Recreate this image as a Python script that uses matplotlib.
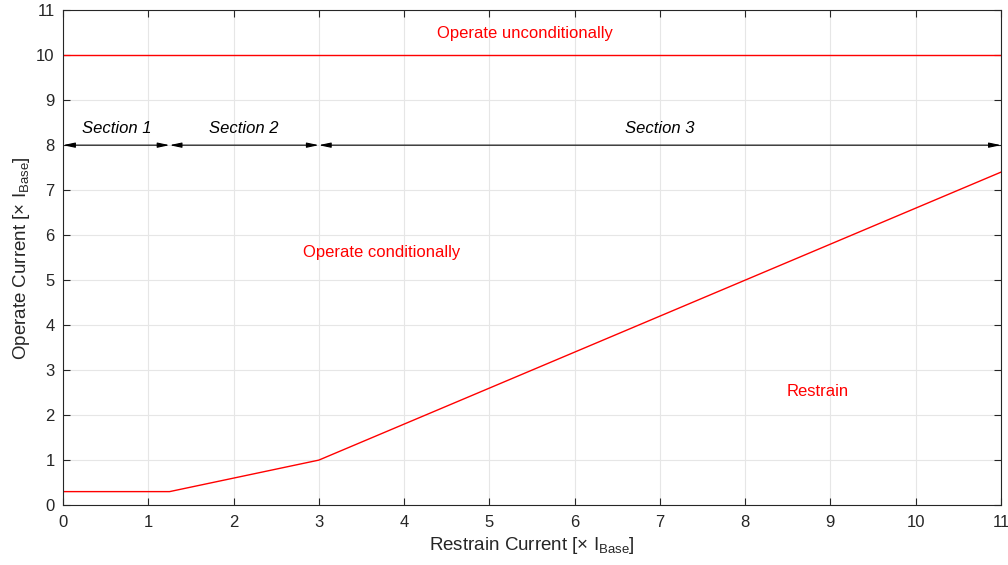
import matplotlib
matplotlib.use("Agg")
import matplotlib.pyplot as plt

plt.rcParams["font.family"] = ["Liberation Sans", "DejaVu Sans"]
plt.rcParams["mathtext.fontset"] = "custom"
plt.rcParams["mathtext.rm"] = "Liberation Sans"
plt.rcParams["mathtext.it"] = "Liberation Sans:italic"

# Restraint characteristic breakpoints
restrain_x = [0, 1.25, 3, 11]
operate_y = [0.3, 0.3, 1.0, 7.4]
unconditional_limit = 10
section_bounds = [0, 1.25, 3, 11]
section_names = ["Section 1", "Section 2", "Section 3"]
arrow_level = 8

fig = plt.figure(figsize=(10.08, 5.65), dpi=100)
ax = fig.add_axes([0.0625, 0.106, 0.9305, 0.876])

ax.plot(restrain_x, operate_y, color="red", lw=1)
ax.plot([0, 11], [unconditional_limit] * 2, color="red", lw=1)

for a, b, name in zip(section_bounds[:-1], section_bounds[1:], section_names):
    ax.annotate("", xy=(b, arrow_level), xytext=(a, arrow_level),
                arrowprops=dict(arrowstyle="<|-|>,head_length=0.7,head_width=0.15",
                                color="black", lw=0.8, shrinkA=0, shrinkB=0))
    ax.text((a + b) / 2, arrow_level + 0.38, name, style="italic",
            ha="center", va="center", fontsize=12)

ax.text(5.42, 10.49, "Operate unconditionally", color="red", ha="center",
        va="center", fontsize=12)
ax.text(3.74, 5.62, "Operate conditionally", color="red", ha="center",
        va="center", fontsize=12)
ax.text(8.85, 2.53, "Restrain", color="red", ha="center", va="center",
        fontsize=12)

ax.set_xlim(0, 11)
ax.set_ylim(0, 11)
ax.set_xticks(range(12))
ax.set_yticks(range(12))
ax.grid(True, color="#e6e6e6", lw=0.8)
ax.set_axisbelow(True)
ax.tick_params(direction="in", top=True, right=True, labelsize=12,
               colors="#262626", length=5)
ax.tick_params(axis="x", pad=7)
ax.tick_params(axis="y", pad=6)
for s in ax.spines.values():
    s.set_color("#262626")
    s.set_linewidth(0.8)

ax.set_xlabel(r"Restrain Current [$\times$ I$_{\mathrm{Base}}$]", fontsize=13.5,
              color="#262626", labelpad=4)
ax.set_ylabel(r"Operate Current [$\times$ I$_{\mathrm{Base}}$]", fontsize=13.5,
              color="#262626", labelpad=3)

fig.savefig("out.png", dpi=100)
